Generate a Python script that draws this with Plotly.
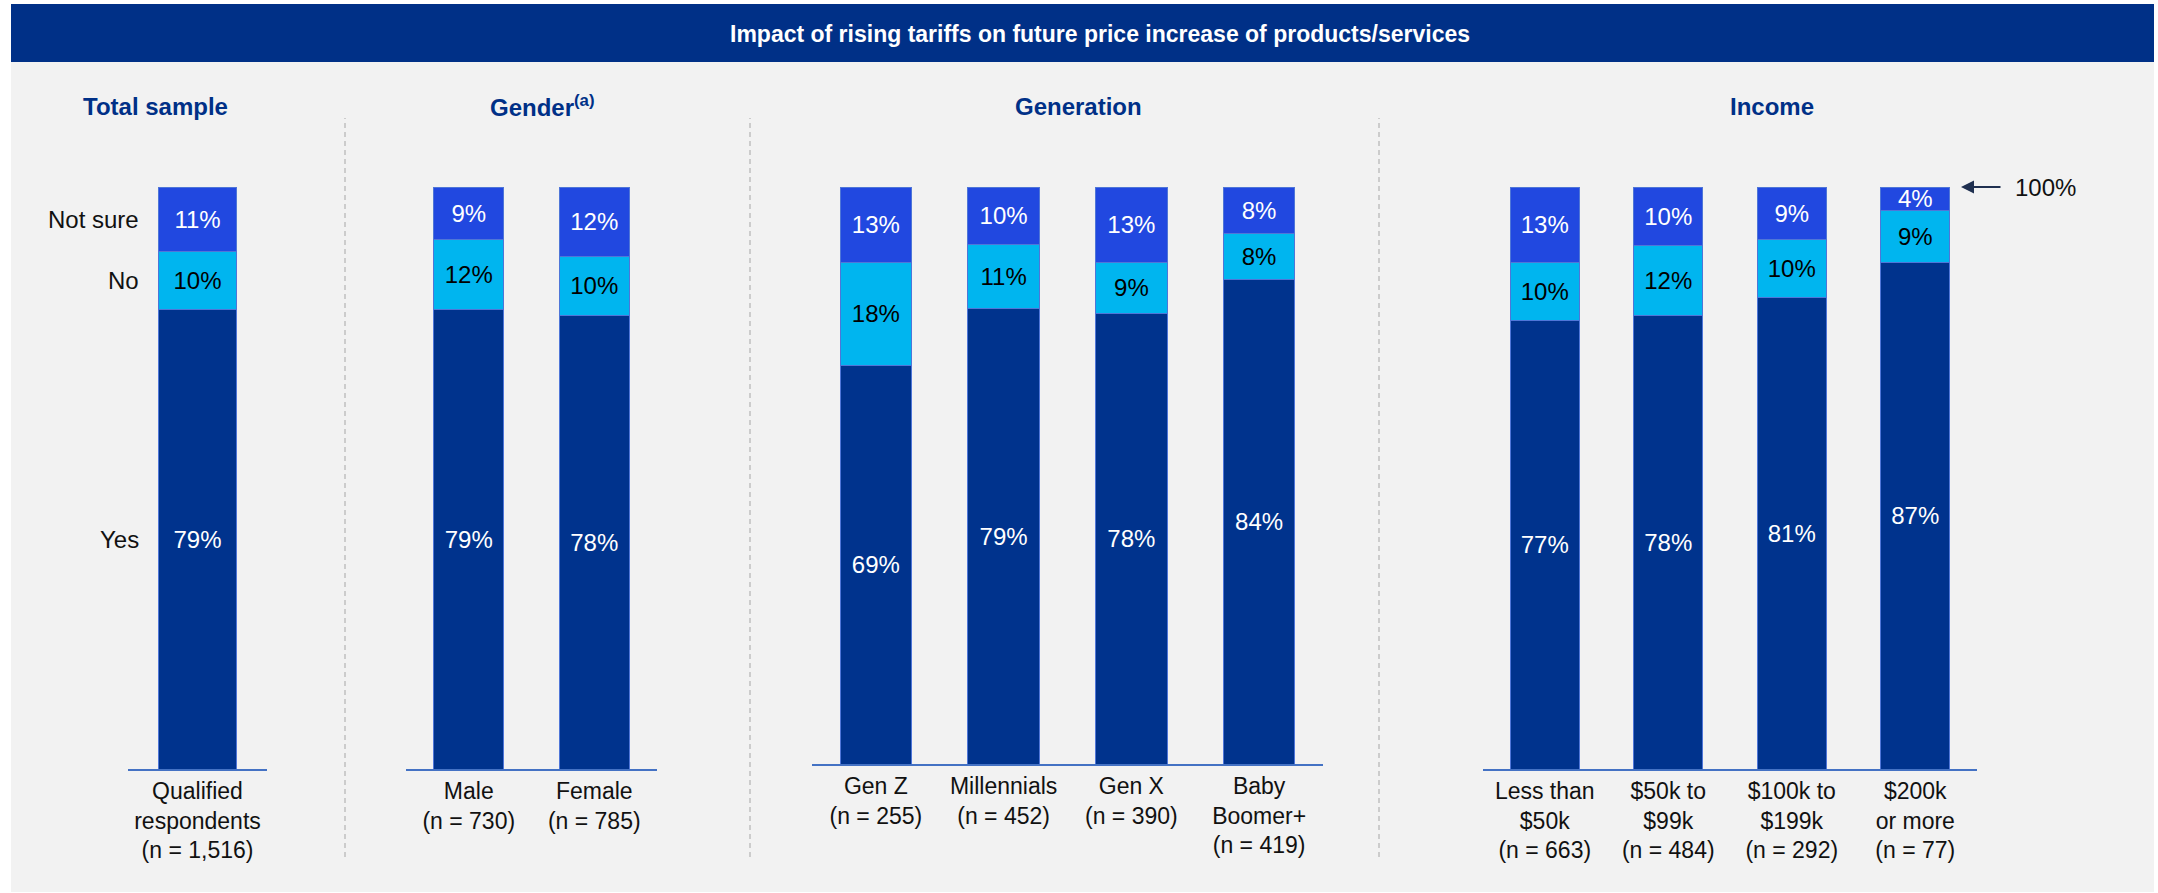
import plotly.graph_objects as go

W, H = 2158, 893

TITLE = "Impact of rising tariffs on future price increase of products/services"
GROUP_TITLES = ["Total sample", "Gender<sup>(a)</sup>", "Generation", "Income"]
SERIES_NAMES = ["Yes", "No", "Not sure"]

# Categories (tick labels) per group
total_labels = ["Qualified<br>respondents<br>(n = 1,516)"]
gender_labels = ["Male<br>(n = 730)", "Female<br>(n = 785)"]
generation_labels = ["Gen Z<br>(n = 255)", "Millennials<br>(n = 452)",
                     "Gen X<br>(n = 390)", "Baby<br>Boomer+<br>(n = 419)"]
income_labels = ["Less than<br>$50k<br>(n = 663)", "$50k to<br>$99k<br>(n = 484)",
                 "$100k to<br>$199k<br>(n = 292)", "$200k<br>or more<br>(n = 77)"]

# Shares (%) per group: Yes / No / Not sure
total_yes = [79]
total_no = [10]
total_notsure = [11]

gender_yes = [79, 78]
gender_no = [12, 10]
gender_notsure = [9, 12]

generation_yes = [69, 79, 78, 84]
generation_no = [18, 11, 9, 8]
generation_notsure = [13, 10, 13, 8]

income_yes = [77, 78, 81, 87]
income_no = [10, 12, 10, 9]
income_notsure = [13, 10, 9, 4]

COL_YES = "#00338D"
COL_NO = "#00B5EF"
COL_NOTSURE = "#2148E0"
NAVY = "#003087"
FONT = "Liberation Sans, Arial, sans-serif"


def px_x(p):
    return p / W


def px_y(p):
    return 1 - p / H


groups = [
    (total_labels, total_yes, total_no, total_notsure, (128, 267), (769, 187)),
    (gender_labels, gender_yes, gender_no, gender_notsure, (406, 657), (769, 187)),
    (generation_labels, generation_yes, generation_no, generation_notsure, (812, 1323), (764, 187)),
    (income_labels, income_yes, income_no, income_notsure, (1483, 1977), (769, 187)),
]

fig = go.Figure()
layout = {}

for i, (cats, yes, no, notsure, xdom, ydom) in enumerate(groups):
    k = "" if i == 0 else str(i + 1)
    for name, vals, col, tcol in [("Yes", yes, COL_YES, "white"),
                                  ("No", no, COL_NO, "black"),
                                  ("Not sure", notsure, COL_NOTSURE, "white")]:
        fig.add_trace(go.Bar(
            x=cats, y=vals, name=name, xaxis="x" + k, yaxis="y" + k,
            marker=dict(color=col, line=dict(color="#4f76d8", width=1)),
            texttemplate="%{y}%", textposition="inside", insidetextanchor="middle",
            textangle=0, constraintext="none",
            textfont=dict(color=tcol, size=24, family=FONT),
            showlegend=False, hoverinfo="skip",
        ))
    layout["xaxis" + k] = dict(
        domain=[px_x(xdom[0]), px_x(xdom[1])], anchor="y" + k,
        type="category", range=[-0.5, len(cats) - 0.5],
        showline=True, linecolor="#4472C4", linewidth=2,
        ticks="", showgrid=False, zeroline=False, fixedrange=True,
        tickfont=dict(size=23, color="#111111", family=FONT),
    )
    layout["yaxis" + k] = dict(
        domain=[px_y(ydom[0]), px_y(ydom[1])], anchor="x" + k,
        range=[0, 100], visible=False, fixedrange=True,
    )

fig.update_layout(**layout)

shapes = [
    # light panel behind the chart
    dict(type="rect", xref="paper", yref="paper", x0=px_x(11), x1=px_x(2154),
         y0=px_y(892), y1=px_y(62), fillcolor="#F2F2F2", line=dict(width=0), layer="below"),
    # title band
    dict(type="rect", xref="paper", yref="paper", x0=px_x(11), x1=px_x(2154),
         y0=px_y(62), y1=px_y(4), fillcolor=NAVY, line=dict(width=0), layer="below"),
]
for sx in [345, 750, 1379]:
    shapes.append(dict(type="line", xref="paper", yref="paper", x0=px_x(sx), x1=px_x(sx),
                       y0=px_y(857), y1=px_y(118),
                       line=dict(color="#A6A6A6", width=1, dash="5px,4px")))

annotations = [
    dict(text="<b>" + TITLE + "</b>", xref="paper", yref="paper", x=px_x(1100), y=px_y(34),
         showarrow=False, font=dict(size=23, color="white", family=FONT),
         xanchor="center", yanchor="middle"),
]
for t, cx in zip(GROUP_TITLES, [155, 542, 1078, 1772]):
    annotations.append(dict(text="<b>" + t + "</b>", xref="paper", yref="paper",
                            x=px_x(cx), y=px_y(106), showarrow=False,
                            font=dict(size=24, color=NAVY, family=FONT),
                            xanchor="center", yanchor="middle"))

# series labels beside the first bar, at segment centres
seg_centres = [
    total_yes[0] / 2,
    total_yes[0] + total_no[0] / 2,
    total_yes[0] + total_no[0] + total_notsure[0] / 2,
]
for name, yc in zip(SERIES_NAMES, seg_centres):
    annotations.append(dict(text=name, xref="paper", yref="y", x=px_x(141), y=yc,
                            showarrow=False, xanchor="right", yanchor="middle",
                            font=dict(size=24, color="#111111", family=FONT)))

# 100% marker
annotations.append(dict(text="", xref="paper", yref="y4", x=px_x(1961), y=100,
                        ax=41, ay=0, showarrow=True, arrowhead=2, arrowsize=1.3,
                        arrowwidth=2, arrowcolor="#1F3050"))
annotations.append(dict(text="100%", xref="paper", yref="y4", x=px_x(2013), y=100,
                        showarrow=False, xanchor="left", yanchor="middle",
                        font=dict(size=24, color="#111111", family=FONT)))

fig.update_layout(
    width=W, height=H, autosize=False,
    margin=dict(l=0, r=0, t=0, b=0),
    paper_bgcolor="white", plot_bgcolor="rgba(0,0,0,0)",
    barmode="stack", bargap=0.44,
    shapes=shapes, annotations=annotations,
    font=dict(family=FONT),
)

fig.write_html("out.html", config={"displayModeBar": False})
